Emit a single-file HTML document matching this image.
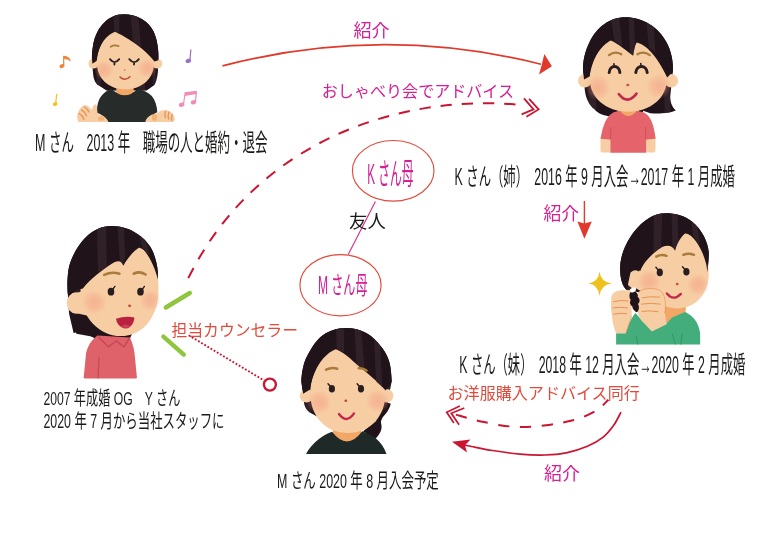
<!DOCTYPE html>
<html lang="ja"><head><meta charset="utf-8"><title>紹介の相関図</title>
<style>
html,body{margin:0;padding:0;background:#fff;font-family:"Liberation Sans",sans-serif;}
body{width:760px;height:537px;overflow:hidden;}
svg{display:block;filter:blur(.4px);}
svg text{font-family:"Liberation Sans","Noto Sans CJK JP",sans-serif;}
</style></head><body>
<svg width="760" height="537" viewBox="0 0 760 537">
<defs><radialGradient id="bl"><stop offset="0" stop-color="#f2977c" stop-opacity=".5"/><stop offset=".55" stop-color="#f2977c" stop-opacity=".3"/><stop offset="1" stop-color="#f2977c" stop-opacity="0"/></radialGradient><clipPath id="h1"><path d="M123.6 14.2C108.5 14.2 96.8 26.8 93.4 43.5C91.4 53.6 91.7 60.3 92.4 67L93.4 76.2C94.1 80.1 95.4 82.8 97.3 84.4L106.5 90.6L146.7 90.6L153.7 85.6C155.8 83.4 157.1 78.7 157.9 72L158.4 60.3C158.8 50.3 157.4 40.2 153.7 31.8C148.7 20.9 137 14.2 123.6 14.2Z"/></clipPath><clipPath id="h2"><path d="M625.2 17.2C609.8 17.2 596.5 27.4 589.7 41.8C585.2 51 582.4 61.2 583.2 71.5L584.8 89.9C585.7 98.1 589.3 105.3 594.5 109.3C598.6 114.1 603.7 115.5 609.8 116.5L643 116.5L643 110.8L650.4 113.2C661 114.1 671.3 112.4 675.8 110.4C671.3 106.3 669.6 100.1 670.5 94L672.9 71.5C673.3 61.2 671.3 51 666.2 41.8C659 27.4 642.6 17.2 625.2 17.2Z"/></clipPath><clipPath id="h3"><path d="M665.3 213.2C654 213.2 642.8 220.4 634.2 231.6C626.4 241.9 620.7 254.2 620.2 266.5C619.8 276.7 621.9 285.9 626.8 290L642.8 293.1L700.1 282.8L706.3 273.6C708.3 266.5 709.3 258.3 708.7 252.1C707.9 241.9 702.2 229.6 691.9 221.4C684.8 215.7 675.5 213.2 665.3 213.2Z"/></clipPath><clipPath id="h4"><path d="M111.2 226.1C102 226.1 93.8 229.8 86.6 236.4C79.5 242.9 72.3 254.8 69.2 266.1C67.2 275.3 66.8 287.6 68.2 297.8L72.3 316.3L76.4 333.7L127.6 342.9L157.9 281.5L157.9 273.3C157.5 264 154.6 253.8 150.1 246.6C146 240.5 142.3 237.4 137.8 234.3C130.7 229.2 121.5 226.1 111.2 226.1Z"/></clipPath><clipPath id="h5"><path d="M346.2 328.1C339 328.1 331.9 329.8 325.7 333.3C319.6 336.7 315.1 342.5 311.4 348.6C306.9 355.8 304 361.9 303.2 367.1C301.6 374.2 301.1 380.4 301.6 383.5L304.2 403.9C305.2 408 307.7 411.7 313 414.2L323.7 420.3L381 420.3L387.2 403.9L391.7 381.4C391.3 374.2 390.9 368.1 389.6 363C387.6 355.8 385.1 351.7 381 346.6C376.9 341.5 372.8 336.7 366.7 333.3C360.5 329.8 353.4 328.1 346.2 328.1Z"/></clipPath></defs>
<g id="c1">
<path d="M123.6 14.2C108.5 14.2 96.8 26.8 93.4 43.5C91.4 53.6 91.7 60.3 92.4 67L93.4 76.2C94.1 80.1 95.4 82.8 97.3 84.4L106.5 90.6L146.7 90.6L153.7 85.6C155.8 83.4 157.1 78.7 157.9 72L158.4 60.3C158.8 50.3 157.4 40.2 153.7 31.8C148.7 20.9 137 14.2 123.6 14.2Z" fill="#20141a"/>
<g clip-path="url(#h1)" fill="#3d2a33" opacity=".6">
<path d="M113.5 11.7L119.6 11.7L118.9 92.2L114.4 92.2Z"/>
<path d="M130.3 11.7L137.8 11.7L145.7 92.2L138.7 92.2Z"/>
<path d="M100.1 28.5L105.1 25.1L100.1 92.2L95.4 92.2Z"/>
<path d="M151.2 28.5L154.6 31.8L156.4 92.2L153.1 92.2Z"/>
</g>
<path d="M77.2 117.1C76.9 113.6 79.5 107.8 83.6 105.5C85.9 104.7 88.8 106.1 89.9 108.1L92 109.7C92.8 106.7 94 104.4 95.3 104.3C96.6 104.7 97.5 108.4 98.2 112.5L99.2 114.8L109.1 115.4L109.1 121.9L78.4 121.9C77.5 120.6 77.2 118.8 77.2 117.1Z" fill="#f7cda3"/>
<ellipse cx="101.2" cy="118.6" rx="3.2" ry="2.2" fill="#f2a766" opacity=".75"/>
<path d="M142.3 121.9L142.6 116.4C145.2 115.4 151.6 114.8 157.4 113.2C159.7 110.4 164.3 109.6 167.8 110.4C171.3 111.6 174.2 114.8 174.7 118.3C174.9 120 174.2 121.4 173.3 121.9Z" fill="#f7cda3"/>
<ellipse cx="154.5" cy="117.4" rx="2.6" ry="3.4" fill="#f2a766" opacity=".75"/>
<path d="M116.3 82.9L133.7 82.9L133.7 97.4L116.3 97.4Z" fill="#f2a766"/>
<path d="M111.2 88.4C106.2 90.9 101.1 94.5 98.9 100.3C97.5 103.9 96.5 108.2 97.5 112.7L101.1 114.7C104.4 116.2 107.2 118.5 108.5 122.1L145.3 122.1C146 118.5 148.9 115.6 153.2 114.2L157.3 112.3C157 106.1 155.4 100.3 151.8 95.9C148.2 92.3 143.1 90.1 138 88.4Q125 102 111.2 88.4Z" fill="#272b2a"/>
<circle cx="93.4" cy="63.7" r="4.9" fill="#f7cda3"/>
<circle cx="157.3" cy="63.7" r="4.9" fill="#f7cda3"/>
<path d="M96.8 62C96.8 46.9 106.8 30.1 124.9 30.1C143.7 30.1 154.2 46.9 154.2 62C154.2 78.7 142 89.3 125.3 89.3C108.5 89.3 96.8 78.7 96.8 62Z" fill="#f7cda3"/>
<circle cx="103.8" cy="70" r="9.7" fill="url(#bl)"/>
<circle cx="147" cy="68.4" r="9.7" fill="url(#bl)"/>
<path d="M96.6 61.1C97.6 50.3 102.6 38.5 109.8 32.2C111.2 30.8 113.2 30.8 115.2 31.8C123.6 36 135.3 42.7 143.7 50.3C147.9 53.9 151.2 57.3 154.4 61.6L158.4 60.3C158.8 50.3 157.4 40.2 153.7 31.8C148.7 20.9 137 14.2 123.6 14.2C108.5 14.2 96.8 26.8 93.4 43.5C91.7 51.9 91.7 58.6 92.4 63.7Z" fill="#20141a"/>
<g clip-path="url(#h1)" fill="#3d2a33" opacity=".6">
<path d="M113.5 11.7L119.6 11.7L119.2 33.8L114 31.1Z"/>
<path d="M130.3 11.7L137.8 11.7L141.3 48.2L133 41.2Z"/>
</g>
<g fill="none" stroke-linecap="round">
<path d="M110.7 46.7Q114.4 44.4 118.5 46.1" stroke="#a87c3a" stroke-width="1.9"/>
<path d="M110 59.1Q114.5 65 119.2 59.1M114.5 62.2L114.4 64.5M129.3 59.1Q134.1 65.3 138.9 59.1M134.1 62.3L134 64.5" stroke="#2a1d20" stroke-width="1.8" stroke-linejoin="round"/>
<path d="M120.1 77.1Q125.1 81.6 129.9 76.7" stroke="#bd4a3c" stroke-width="1.5"/>
</g>
<ellipse cx="124.6" cy="70" rx="1" ry="0.9" fill="#e2905f"/>
<path d="M84.4 107Q87.6 108.7 88.9 111.9M81.6 109.9Q85 111.9 86.5 115.7M79.2 113.6Q82.7 115.4 83.9 119.4" fill="none" stroke="#e58b4a" stroke-width="1.4" stroke-linecap="round" opacity=".85"/>
<path d="M165.5 111.6Q164.3 114.8 165.5 117.7M168.9 112.2Q167.5 115.4 168.7 119.1M172.1 114.5Q171 117.1 171.8 120.3" fill="none" stroke="#e58b4a" stroke-width="1.4" stroke-linecap="round" opacity=".85"/>
<path d="M63.7 55.9L63.7 65.4" fill="none" stroke="#f0853a" stroke-width="1.2"/>
<ellipse cx="62" cy="66.1" rx="2.6" ry="1.9" transform="rotate(-20 62 66.1)" fill="#f0853a"/>
<path d="M63.7 55.7Q70.3 56.2 70.8 61.8Q67.9 58.5 63.7 59Z" fill="#f0853a"/>
<path d="M56.8 93.8L55.6 103.3" fill="none" stroke="#f5c21c" stroke-width="1.2"/>
<ellipse cx="55.2" cy="104" rx="2.4" ry="1.9" transform="rotate(-20 55.2 104)" fill="#f5c21c"/>
<path d="M190.9 49.5L189.9 59.9" fill="none" stroke="#9b70c2" stroke-width="1.2"/>
<ellipse cx="188.3" cy="60.9" rx="2.8" ry="2.1" transform="rotate(-20 188.3 60.9)" fill="#9b70c2"/>
<path d="M184.9 94.5L183.5 104M196.3 92.6L195.4 101.6" fill="none" stroke="#ef8db4" stroke-width="1.2"/>
<path d="M184.5 92.2L196.8 90.7L196.8 94.1L184.5 95.9Z" fill="#ef8db4"/>
<ellipse cx="181.6" cy="104.7" rx="2.8" ry="2.1" transform="rotate(-20 181.6 104.7)" fill="#ef8db4"/>
<ellipse cx="193.5" cy="102.3" rx="2.8" ry="2.1" transform="rotate(-20 193.5 102.3)" fill="#ef8db4"/>
</g>
<g id="c2">
<path d="M625.2 17.2C609.8 17.2 596.5 27.4 589.7 41.8C585.2 51 582.4 61.2 583.2 71.5L584.8 89.9C585.7 98.1 589.3 105.3 594.5 109.3C598.6 114.1 603.7 115.5 609.8 116.5L643 116.5L643 110.8L650.4 113.2C661 114.1 671.3 112.4 675.8 110.4C671.3 106.3 669.6 100.1 670.5 94L672.9 71.5C673.3 61.2 671.3 51 666.2 41.8C659 27.4 642.6 17.2 625.2 17.2Z" fill="#20141a"/>
<g clip-path="url(#h2)" fill="#3d2a33" opacity=".6">
<path d="M587.3 51L592.4 46.9L597.5 124.7L589.3 124.7Z"/>
<path d="M663.1 40.7L667.6 44.8L671.3 124.7L665.1 124.7Z"/>
</g>
<path d="M600.5 137.3L610.6 137.3L610.6 152.6L603.1 152.6Q600.5 152.6 600.5 149.7Z" fill="#f7cda3"/>
<path d="M645.8 137.3L655.5 137.3L655.5 149.7Q655.5 152.6 652.7 152.6L645.8 152.6Z" fill="#f7cda3"/>
<path d="M617.7 102.3L638.8 102.3L638.8 117.4L617.7 117.4Z" fill="#f2a766"/>
<path d="M620.1 111.1C616.7 111.5 614 111.9 611.9 113.4C606.8 116.5 603.1 124 600.5 138.8L610.4 139.4L610.4 152.8L646.1 152.8L646.1 139.4L655.6 138.8C654 124 650.3 116.5 644.9 113.1C642.8 111.9 640 111.5 636.8 111.1Q628.1 121 620.1 111.1Z" fill="#e5646c"/>
<path d="M610.8 127.4L610.5 139.3M645.5 127.4L645.8 139.3" fill="none" stroke="#c84a57" stroke-width="0.8" stroke-linecap="round"/>
<circle cx="584.8" cy="80.7" r="6.8" fill="#f7cda3"/>
<circle cx="671.3" cy="80.7" r="6.8" fill="#f7cda3"/>
<path d="M589.7 78.6C589.7 57.1 605.7 35.6 628.3 35.6C650.8 35.6 667 57.1 667 78.6C667 97.7 650.8 111.8 628.3 111.8C605.7 111.8 589.7 97.7 589.7 78.6Z" fill="#f7cda3"/>
<circle cx="597.9" cy="87.4" r="12.7" fill="url(#bl)"/>
<circle cx="659" cy="86.2" r="12.7" fill="url(#bl)"/>
<path d="M589.5 76.6C591.4 62.2 598.6 47.9 608.8 39.7C613.9 40.7 624.2 48.9 633.2 55.7C633.6 51 634.8 45.8 636.7 42.4C645.7 44.4 656.9 55.1 667.2 77.6L672.9 71.5C673.3 61.2 671.3 51 666.2 41.8C659 27.4 642.6 17.2 625.2 17.2C609.8 17.2 596.5 27.4 589.7 41.8C585.2 51 582.4 61.2 583.2 71.5L584 79.6Z" fill="#20141a"/>
<g clip-path="url(#h2)" fill="#3d2a33" opacity=".6">
<path d="M610.8 16.1L619 16.1L622.5 46.5L614.3 41.1Z"/>
<path d="M628.7 16.1L634 16.1L634.8 46.9L633.2 54.7L629.9 52.6Z"/>
<path d="M646.3 20.2L653.9 22.3L655.3 53L648.7 46.9Z"/>
</g>
<g fill="none" stroke-linecap="round">
<path d="M609 55.1Q614.9 50.6 621.3 54.2M637.5 54.2Q643.6 50.6 649.8 55.1" stroke="#a87c3a" stroke-width="2.3"/>
<path d="M609.2 72.5C609.8 64.5 619.2 64.5 619.9 72.5M635.8 72.5C636.5 64.5 646.5 64.5 647.2 72.5" stroke="#2a1d20" stroke-width="3"/>
<path d="M614.1 65.7L613.9 63.7M641 65.7L640.8 63.5" stroke="#2a1d20" stroke-width="1.6"/>
<path d="M618.8 94Q627.4 105.5 636.5 93.6" stroke="#c3284c" stroke-width="2.6"/>
</g>
<ellipse cx="627.8" cy="85" rx="1.6" ry="1.3" fill="#c9504a"/>
</g>
<g id="c3">
<path d="M665.3 213.2C654 213.2 642.8 220.4 634.2 231.6C626.4 241.9 620.7 254.2 620.2 266.5C619.8 276.7 621.9 285.9 626.8 290L642.8 293.1L700.1 282.8L706.3 273.6C708.3 266.5 709.3 258.3 708.7 252.1C707.9 241.9 702.2 229.6 691.9 221.4C684.8 215.7 675.5 213.2 665.3 213.2Z" fill="#20141a"/>
<g clip-path="url(#h3)" fill="#3d2a33" opacity=".6">
<path d="M624.3 256.2L630.5 246L634.6 295.1L627.4 295.1Z"/>
</g>
<path d="M661.8 301.6L686.3 301.6L685.5 313.4L672.1 318.2L665.2 324.5L662.6 317.4Z" fill="#f2a766"/>
<path d="M643.7 322.4L665.8 324L672.1 317.4L685.1 312C692.6 315.5 698.9 322.1 700.1 333.2L700.2 344.5L616.1 344.5L616.1 333.2L625.7 333.2C627.9 325.3 631.4 317.4 635.5 312.9Z" fill="#43ae7c"/>
<path d="M636.1 336.3L637.7 344.2M672.1 333.9L675.3 344.2M681.9 333.9L680.9 344.2" fill="none" stroke="#2f9364" stroke-width="0.9" stroke-linecap="round"/>
<ellipse cx="634.6" cy="279.2" rx="8.2" ry="9.2" fill="#f7cda3"/>
<path d="M634.2 272.6L646.9 272.6L654 299.2L635.6 288Z" fill="#f7cda3"/>
<path d="M638.7 272.6C640.7 254.2 657.1 233.7 679.6 232.7C698.1 232.7 708.7 250.1 708.7 274.6C708.7 293.1 696 308.4 677.6 308.4C659.2 308.4 640.7 295.1 638.7 272.6Z" fill="#f7cda3"/>
<circle cx="649.3" cy="281.2" r="11.5" fill="url(#bl)"/>
<circle cx="698.1" cy="284.5" r="11.1" fill="url(#bl)"/>
<path d="M640.3 271C642.8 263.4 651 254.2 662.2 247C668.4 244.3 672.5 246 675.1 250.7C676.6 243.9 680.7 236.8 685.8 232.7C694 235.7 702.2 248 706.3 264.4L707.5 272.6L708.7 252.1C707.9 241.9 702.2 229.6 691.9 221.4C684.8 215.7 675.5 213.2 665.3 213.2C654 213.2 642.8 220.4 634.2 231.6C626.4 241.9 620.7 254.2 620.2 266.5C619.8 276.7 621.9 285.9 626.8 290L630.5 272.6C633.6 269.5 637.7 269.5 640.3 271Z" fill="#20141a"/>
<g clip-path="url(#h3)" fill="#3d2a33" opacity=".6">
<path d="M654 211.1L662.2 211.1L661.2 247.6L653.4 252.5Z"/>
<path d="M671.5 211.1L677.6 211.1L678.4 239.8L675.1 249.7L672.5 246Z"/>
<path d="M690.9 217.3L697.1 223.4L700.1 246L693 235.7Z"/>
</g>
<g fill="none" stroke-linecap="round">
<path d="M656.3 256.6Q661.2 253.8 666.5 255.8M683.3 254.8Q688.7 252.5 694 254.8" stroke="#a87c3a" stroke-width="2.5"/>
<path d="M666.9 293.5Q673.5 301.7 680.9 293.9" stroke="#c3284c" stroke-width="2.3"/>
<path d="M658.3 270.1L655.9 267.3M685 269.5L682.5 266.7" stroke="#2a1d20" stroke-width="1.4"/>
</g>
<ellipse cx="659.8" cy="272.4" rx="3.1" ry="3.8" fill="#2a1d20"/>
<ellipse cx="686.4" cy="271.8" rx="3.1" ry="3.8" fill="#2a1d20"/>
<ellipse cx="677.2" cy="284.1" rx="1.4" ry="1.3" fill="#c9504a"/>
<path d="M611.3 298.4C611.3 293.7 615.3 290.5 621.6 290.2L631.4 290.2L631.7 315.8C629.8 322.1 627.3 328.4 625.7 333.3L616.1 333.3C613.7 326.8 611.8 320.5 612.1 315.8C610.8 311.1 610.8 303.2 611.3 298.4Z" fill="#f7cda3"/>
<path d="M631.7 315.8C629.8 322.1 627.3 328.4 625.7 333.3" fill="none" stroke="#e58b4a" stroke-width="0.8" opacity=".7"/>
<path d="M637.4 293.7C640.5 288.6 653.2 287.1 659.8 290.2C665.5 293.7 666.4 304.7 664.8 312.6L666.7 324.2L651.9 331.4L643.4 322.6C638.2 317.4 637.1 311.1 637.4 304.7Z" fill="#f7cda3"/>
<path d="M638.3 292.4C641.5 288.3 653.2 287.1 659.8 290.2C665.5 293.7 666.4 304.7 664.8 312.9" fill="none" stroke="#e58b4a" stroke-width="0.8" stroke-linecap="round" opacity=".75"/>
<path d="M613.7 301.6Q620.8 299.7 627.9 300.9M612.9 307.9Q620 306.6 627.3 307.9M613.7 314.2Q620 312.6 626.6 313.6M642.4 297.8Q650.8 295.9 659.8 297.2M641.5 304.1Q650.8 302.5 660.1 304.1M642.1 311.4Q650 310.1 658.2 311.7" fill="none" stroke="#e58b4a" stroke-width="0.9" stroke-linecap="round"/>
<path d="M630.7 291.3C635 290.2 638.9 293.7 637.7 296.8C640.5 299.2 639.9 302.4 638 303.9C639.9 307.1 638.8 310.6 636.9 312.3C635 311.7 632.3 309 632.3 306.3C629.6 304.7 629.6 301.6 630.7 300C628.8 297.6 629.2 293.7 630.7 291.3Z" fill="#20141a"/>
<ellipse cx="632.9" cy="289.9" rx="3.3" ry="2.2" transform="rotate(-25 632.9 289.9)" fill="#fffdf5"/>
<path d="M599.5 271.6Q600.6 282 611.5 283.4Q600.6 284.8 599.5 295.9Q598.4 284.8 588.7 283.4Q598.4 282 599.5 271.6Z" fill="#efc11c"/>
</g>
<g id="c4">
<path d="M68.2 303.2L83.7 309.5L85.6 323.7L99.9 333.9L95.8 339.1L90.1 335.8L83.7 331L73.6 333.1L69.2 314.2Z" fill="#20141a"/>
<path d="M111.2 226.1C102 226.1 93.8 229.8 86.6 236.4C79.5 242.9 72.3 254.8 69.2 266.1C67.2 275.3 66.8 287.6 68.2 297.8L72.3 316.3L76.4 333.7L127.6 342.9L157.9 281.5L157.9 273.3C157.5 264 154.6 253.8 150.1 246.6C146 240.5 142.3 237.4 137.8 234.3C130.7 229.2 121.5 226.1 111.2 226.1Z" fill="#20141a"/>
<g clip-path="url(#h4)" fill="#3d2a33" opacity=".6">
<path d="M70.2 273.3L76.8 261L80.5 291.7L72.3 291.7Z"/>
</g>
<path d="M97.4 335.5C91.7 339.6 87.7 345.9 86.1 353L83.7 377.2Q83.7 378.5 85 378.5L135.7 378.5Q136.9 378.5 136.9 377.2L134.5 353C133.6 346.7 132 341.5 129.8 337.4Z" fill="#df6169"/>
<path d="M98.9 337.4L108.3 346.8L116.2 340.8L124.1 346.8L129.6 338" fill="none" stroke="#c84a57" stroke-width="1.6" stroke-linejoin="round" stroke-linecap="round"/>
<path d="M98.9 357.3L98.1 377.9" fill="none" stroke="#c84a57" stroke-width="1.3" stroke-linecap="round"/>
<ellipse cx="76" cy="303" rx="9.2" ry="10.7" fill="#f7cda3"/>
<path d="M76 292.9L88.7 289.6L90.7 316.3L76.4 313.2Z" fill="#f7cda3"/>
<path d="M80.5 291.7C80.5 271.2 101 245.6 127.6 245.6C148.1 245.6 158.5 261 158.5 287.6C158.9 301.9 155.9 312.2 148.5 322.4C141.9 331 131.7 336.1 120.4 336.1C99.9 336.1 80.5 317.3 80.5 291.7Z" fill="#f7cda3"/>
<circle cx="94.4" cy="302.3" r="12.3" fill="url(#bl)"/>
<circle cx="150.1" cy="300.3" r="10.7" fill="url(#bl)"/>
<path d="M82.9 288.4C90.7 278.6 102 269.8 112.2 263.4C118.4 259.9 121.5 261 123.3 265.7C127.6 257.9 134.8 249.7 140.9 246.6C148.1 253.8 154.6 266.1 157.9 279.4L157.9 273.3C157.5 264 154.6 253.8 150.1 246.6C146 240.5 142.3 237.4 137.8 234.3C130.7 229.2 121.5 226.1 111.2 226.1C102 226.1 93.8 229.8 86.6 236.4C79.5 242.9 72.3 254.8 69.2 266.1C67.2 275.3 66.8 287.6 68.2 297.8L68.4 296.6C71.3 292.3 77.4 289.4 82.9 288.4Z" fill="#20141a"/>
<g clip-path="url(#h4)" fill="#3d2a33" opacity=".6">
<path d="M96.9 224.1L106.1 224.1L106.7 267.1L98.1 272.8Z"/>
<path d="M117.4 224.1L123.9 224.1L125.1 256.9L123.1 264.7L119.8 261Z"/>
<path d="M138.9 232.3L146 238.4L149.3 255.8L141.9 247.7Z"/>
</g>
<g fill="none" stroke-linecap="round">
<path d="M104.2 274.9Q111.6 271.2 119.4 273.7M133.7 273.7Q139.9 270.8 145.6 274.5" stroke="#a87c3a" stroke-width="2.6"/>
<path d="M112.6 289.6L114.9 286.4M142.1 289.6L144.4 286.4" stroke="#2a1d20" stroke-width="1.4"/>
</g>
<ellipse cx="111" cy="291.7" rx="3.3" ry="3.9" fill="#2a1d20"/>
<ellipse cx="140.5" cy="291.7" rx="3.3" ry="3.9" fill="#2a1d20"/>
<ellipse cx="129.6" cy="305.8" rx="1.6" ry="1.4" fill="#c9504a"/>
<path d="M116 318.8Q124.9 315.8 134.4 317.4Q134.1 323.7 129.6 327.2Q125.7 329.4 122 327.5Q117 325 116 318.8Z" fill="#b9213f"/>
<path d="M121.1 326.6Q124.9 322.8 130.3 326.3Q125.8 329.4 121.1 326.6Z" fill="#cf3d60"/>
</g>
<g id="c5">
<path d="M381.8 400.8L390.8 403.7C389.8 408 387.6 411.6 385.5 414.1C381.8 418.2 380.4 420.8 381.3 423.9C382.1 427.6 381.3 431.2 378.9 434.4C377.5 436.7 376.1 438.1 374.9 439L363 431.2L376.1 421.1Z" fill="#20141a"/>
<path d="M346.2 328.1C339 328.1 331.9 329.8 325.7 333.3C319.6 336.7 315.1 342.5 311.4 348.6C306.9 355.8 304 361.9 303.2 367.1C301.6 374.2 301.1 380.4 301.6 383.5L304.2 403.9C305.2 408 307.7 411.7 313 414.2L323.7 420.3L381 420.3L387.2 403.9L391.7 381.4C391.3 374.2 390.9 368.1 389.6 363C387.6 355.8 385.1 351.7 381 346.6C376.9 341.5 372.8 336.7 366.7 333.3C360.5 329.8 353.4 328.1 346.2 328.1Z" fill="#20141a"/>
<g clip-path="url(#h5)" fill="#3d2a33" opacity=".6">
<path d="M303.6 373.2L308.5 363L311.4 418.3L306.5 418.3Z"/>
<path d="M386.8 363L390.5 371.2L389.6 408L385.1 408Z"/>
</g>
<path d="M332.9 423.9L361.3 423.9L361.3 442.8L332.9 442.8Z" fill="#f2a766"/>
<path d="M332.1 431.8C326.8 433.8 322.5 436.2 318.9 438.9C313.1 443.5 308.8 448.6 306 453.9L386.5 453.9C384.4 447.8 380.7 442.5 375.5 438.1C371.7 435.2 367.4 432.9 362.2 431.2Q347.1 451.4 332.1 431.8Z" fill="#1f2927"/>
<circle cx="306.5" cy="395.7" r="6.8" fill="#f7cda3"/>
<circle cx="386.6" cy="395.7" r="6.8" fill="#f7cda3"/>
<path d="M310.2 392.7C310.2 371.2 325.7 346.6 347.8 346.6C370 346.6 385.5 371.2 385.5 392.7C385.5 416.2 370 433 347.8 433C325.7 433 310.2 416.2 310.2 392.7Z" fill="#f7cda3"/>
<circle cx="319.2" cy="402.3" r="12.3" fill="url(#bl)"/>
<circle cx="377.8" cy="401.1" r="11.9" fill="url(#bl)"/>
<path d="M310 389.6C311.8 375.3 319.6 357.8 332.9 348.6C339 349.7 346.2 354.8 352.8 360.9C362.6 369.5 374.9 378.3 385.7 390.6L391.7 381.4C391.3 374.2 390.9 368.1 389.6 363C387.6 355.8 385.1 351.7 381 346.6C376.9 341.5 372.8 336.7 366.7 333.3C360.5 329.8 353.4 328.1 346.2 328.1C339 328.1 331.9 329.8 325.7 333.3C319.6 336.7 315.1 342.5 311.4 348.6C306.9 355.8 304 361.9 303.2 367.1C301.6 374.2 301.1 380.4 301.6 383.5L303.2 393.7Z" fill="#20141a"/>
<g clip-path="url(#h5)" fill="#3d2a33" opacity=".6">
<path d="M336 326.1L343.8 326.1L344.2 353.1L336.8 349.4Z"/>
<path d="M354.4 326.1L361 326.1L364.6 370.8L356.5 364.2Z"/>
<path d="M373.9 336.3L380 342.5L382.3 387.1L376.1 381.8Z"/>
</g>
<g fill="none" stroke-linecap="round">
<path d="M326.1 369.7Q331.5 366.9 337.2 368.7M358.7 368.3Q362.8 367.7 366.5 370.5" stroke="#a87c3a" stroke-width="2.6"/>
<path d="M339 414Q346.4 424.2 354 413.4" stroke="#c3284c" stroke-width="2.4"/>
<path d="M330.2 386.3L328 383.7M359.3 386.3L357.1 383.7" stroke="#2a1d20" stroke-width="1.4"/>
</g>
<ellipse cx="331.9" cy="388.8" rx="3.1" ry="3.8" fill="#2a1d20"/>
<ellipse cx="361" cy="388.8" rx="3.1" ry="3.8" fill="#2a1d20"/>
<ellipse cx="345.8" cy="400.7" rx="1.4" ry="1.3" fill="#b9453f"/>
</g>
<g fill="none" stroke-linecap="butt">
<path d="M222.5 65.9Q381.8 24.4 541 64.2" stroke="#e1392c" stroke-width="1.7"/>
<path d="M544.3 53.9L551.9 66.2L539 74.6L541.9 64.2Z" fill="#e1392c" stroke="none"/>
<path d="M188.3 278.1C260.2 132.9 412.1 93.9 521 105" stroke="#cb1431" stroke-width="2" stroke-dasharray="11.3 9.94"/>
<path d="M524 98.3L533.5 109.4L521.6 114.4M529.1 98.9L538.6 109.4L526.4 116.8" stroke="#cb1431" stroke-width="1.8"/>
<path d="M584.4 201L584.4 226" stroke="#e1392c" stroke-width="1.4"/>
<path d="M577.4 221.4L584.4 223.6L591.8 221.4L584.4 238.8Z" fill="#e1392c" stroke="none"/>
<path d="M375.4 201.4L348.2 254.6" stroke="#d7308a" stroke-width="1.15"/>
<ellipse cx="393.2" cy="170.8" rx="40.8" ry="30.3" stroke="#e24a3c" stroke-width="1.15" fill="#fff"/>
<ellipse cx="340.5" cy="285.2" rx="40.6" ry="30.6" stroke="#e24a3c" stroke-width="1.15" fill="#fff"/>
<path d="M165.8 307.5L189.8 293" stroke="#8fc63d" stroke-width="4.4" stroke-linecap="round"/>
<path d="M163.4 336.6L183.8 354.6" stroke="#8fc63d" stroke-width="4.4" stroke-linecap="round"/>
<path d="M188.7 335.3L264.2 380.6" stroke="#cb1431" stroke-width="1.9" stroke-dasharray="1.8 1.85"/>
<circle cx="269.9" cy="384.6" r="6" stroke="#cb1431" stroke-width="2.3" fill="#fff"/>
<path d="M455.9 414.6C458.1 415.2 464.4 417.2 468.9 418.4C473.3 419.6 477.4 420.6 482.6 421.7C487.8 422.8 494.4 424.3 500 425.2C505.6 426.1 510.9 426.6 516.3 426.8C521.6 427 526.4 427 532.1 426.6C537.8 426.2 544.8 425.5 550.5 424.7C556.2 423.9 561 423 566.3 421.8C571.6 420.6 576.8 419.4 582.1 417.4C587.4 415.3 593.5 412.4 597.9 409.5C602.3 406.6 606.6 401.3 608.4 399.7" stroke="#cb1431" stroke-width="2" stroke-dasharray="11.2 10.6"/>
<path d="M459.8 406.1L446.7 412.3L453.9 423M464.3 408L451.3 413.3L459.1 424.7" stroke="#cb1431" stroke-width="1.7"/>
<path d="M621 412.1C619.8 414.3 616.7 421.1 613.7 425.3C610.7 429.5 607.6 433.6 603.2 437.1C598.8 440.6 593.5 443.7 587.4 446.3C581.2 448.9 573.3 451.4 566.3 452.9C559.3 454.3 553 454.8 545.3 455C537.6 455.2 528.8 454.9 520 454.1C511.2 453.4 500.7 451.8 492.6 450.5C484.5 449.2 476.2 447.4 471.6 446.5C467 445.6 466.1 445.4 465 445.2" stroke="#cb1431" stroke-width="1.7"/>
<path d="M452 441.7L470.5 439.6L465 445.2L467 452.4Z" fill="#cb1431" stroke="none"/>
</g>
<text transform="translate(35.1 150.7) scale(0.52 1)" font-size="24" fill="#1c1919" textLength="447" lengthAdjust="spacingAndGlyphs">M さん　2013 年　職場の人と婚約・退会</text>
<text transform="translate(454.6 185.2) scale(0.52 1)" font-size="24" fill="#1c1919" textLength="539" lengthAdjust="spacingAndGlyphs">K さん（姉）　2016 年 9 月入会→2017 年 1 月成婚</text>
<text transform="translate(459.3 372.9) scale(0.52 1)" font-size="24" fill="#1c1919" textLength="550" lengthAdjust="spacingAndGlyphs">K さん（妹）　2018 年 12 月入会→2020 年 2 月成婚</text>
<text transform="translate(43.4 405) scale(0.65 1)" font-size="19.2" fill="#1c1919" textLength="210.8" lengthAdjust="spacingAndGlyphs">2007 年成婚 OG　Y さん</text>
<text transform="translate(43.4 427.8) scale(0.64 1)" font-size="19.6" fill="#1c1919" textLength="283" lengthAdjust="spacingAndGlyphs">2020 年 7 月から当社スタッフに</text>
<text transform="translate(277.1 487.6) scale(0.6 1)" font-size="20.6" fill="#1c1919" textLength="269.5" lengthAdjust="spacingAndGlyphs">M さん 2020 年 8 月入会予定</text>
<text x="349" y="228" font-size="18.3" fill="#1c1919" textLength="36.8" lengthAdjust="spacingAndGlyphs">友人</text>
<text x="353.4" y="36.7" font-size="18" fill="#d42094" textLength="36.2" lengthAdjust="spacingAndGlyphs">紹介</text>
<text x="543.4" y="220.3" font-size="18" fill="#d42094" textLength="35.8" lengthAdjust="spacingAndGlyphs">紹介</text>
<text x="544" y="480" font-size="18" fill="#d42094" textLength="36" lengthAdjust="spacingAndGlyphs">紹介</text>
<text x="321.8" y="97.3" font-size="16.3" fill="#d42094" textLength="192.2" lengthAdjust="spacingAndGlyphs">おしゃべり会でアドバイス</text>
<text transform="translate(367.2 183.9) scale(0.4 1)" font-size="30" fill="#d42094" textLength="116" lengthAdjust="spacingAndGlyphs">K さん母</text>
<text transform="translate(317.9 293.8) scale(0.5 1)" font-size="25" fill="#d42094" textLength="99.2" lengthAdjust="spacingAndGlyphs">M さん母</text>
<text x="171.5" y="336" font-size="16" fill="#e24a3c" textLength="126.5" lengthAdjust="spacingAndGlyphs">担当カウンセラー</text>
<text x="447.5" y="399" font-size="16" fill="#e24a3c" textLength="192.3" lengthAdjust="spacingAndGlyphs">お洋服購入アドバイス同行</text>
</svg>
</body></html>
